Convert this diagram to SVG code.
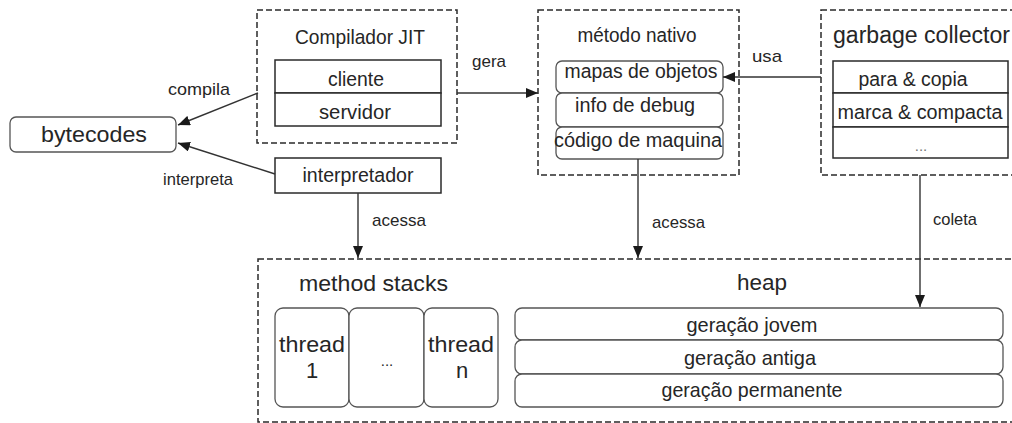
<svg xmlns="http://www.w3.org/2000/svg" width="1012" height="423" viewBox="0 0 1012 423">
<defs>
<style>
text{font-family:"Liberation Sans",Arial,sans-serif;fill:#262626;}
.c{text-anchor:middle;}
.t19{font-size:20px;}
.t22{font-size:22px;}
.lab{font-size:17px;}
.dash{fill:none;stroke:#2a2a2a;stroke-width:1.5;stroke-dasharray:6,3;}
.box{fill:#fff;stroke:#2a2a2a;stroke-width:1.5;}
.rbox{fill:#fff;stroke:#555;stroke-width:1.3;}
.conn{fill:none;stroke:#333;stroke-width:1.4;}
</style>
<marker id="ah" viewBox="0 0 12 10" refX="12" refY="5" markerWidth="12" markerHeight="10" markerUnits="userSpaceOnUse" orient="auto">
<path d="M0,0 L12,5 L0,10 z" fill="#1a1a1a"/>
</marker>
</defs>
<rect width="1012" height="423" fill="#fff"/>

<g id="jit">
<rect class="dash" x="257" y="10" width="200" height="133"/>
<text class="c" x="360" y="44" font-size="21" textLength="130" lengthAdjust="spacingAndGlyphs">Compilador JIT</text>
<rect class="box" x="275" y="60" width="166" height="33"/>
<rect class="box" x="275" y="93" width="166" height="33"/>
<text class="c t19" x="356" y="86" textLength="56" lengthAdjust="spacingAndGlyphs">cliente</text>
<text class="c t19" x="355" y="119" textLength="72" lengthAdjust="spacingAndGlyphs">servidor</text>
</g>

<g id="interpretador">
<rect class="box" x="275" y="158" width="166" height="35"/>
<text class="c t19" x="358" y="182" textLength="111" lengthAdjust="spacingAndGlyphs">interpretador</text>
</g>

<g id="bytecodes">
<rect class="rbox" x="10" y="117" width="166" height="35" rx="6"/>
<text class="c t22" x="94" y="142" textLength="106" lengthAdjust="spacingAndGlyphs">bytecodes</text>
</g>

<g id="metodo-nativo">
<rect class="dash" x="538" y="10" width="201" height="165"/>
<text class="c t19" x="637" y="42" textLength="119" lengthAdjust="spacingAndGlyphs">método nativo</text>
<rect class="rbox" x="556" y="61" width="167" height="32" rx="6"/>
<rect class="rbox" x="556" y="93" width="167" height="34" rx="6"/>
<rect class="rbox" x="556" y="127" width="167" height="32" rx="6"/>
<text class="c t19" x="641" y="78" textLength="153" lengthAdjust="spacingAndGlyphs">mapas de objetos</text>
<text class="c t19" x="635" y="112" textLength="120" lengthAdjust="spacingAndGlyphs">info de debug</text>
<text class="c t19" x="638" y="147" textLength="168" lengthAdjust="spacingAndGlyphs">código de maquina</text>
</g>

<g id="garbage-collector">
<rect class="dash" x="821" y="10" width="200" height="165"/>
<text x="833" y="43" font-size="23" textLength="177" lengthAdjust="spacingAndGlyphs">garbage collector</text>
<rect class="box" x="833" y="61" width="175" height="32"/>
<rect class="box" x="833" y="93" width="175" height="34"/>
<rect class="box" x="833" y="127" width="175" height="31"/>
<text class="c t19" x="913" y="86" textLength="109" lengthAdjust="spacingAndGlyphs">para &amp; copia</text>
<text class="c t19" x="920" y="119" textLength="165" lengthAdjust="spacingAndGlyphs">marca &amp; compacta</text>
<text class="c" x="921" y="151" font-size="15" style="fill:#777">...</text>
</g>

<g id="memoria">
<rect class="dash" x="258" y="259" width="770" height="163"/>
</g>

<g id="method-stacks">
<text class="t22" x="299" y="291" textLength="149" lengthAdjust="spacingAndGlyphs">method stacks</text>
<rect class="rbox" x="275" y="308" width="74" height="99" rx="8"/>
<rect class="rbox" x="349" y="308" width="75" height="99" rx="8"/>
<rect class="rbox" x="424" y="308" width="74" height="99" rx="8"/>
<text class="c t22" x="312" y="352" textLength="66" lengthAdjust="spacingAndGlyphs">thread</text>
<text class="c t22" x="312" y="378">1</text>
<text class="c" x="387" y="366" font-size="15">...</text>
<text class="c t22" x="461" y="352" textLength="66" lengthAdjust="spacingAndGlyphs">thread</text>
<text class="c t22" x="462" y="378">n</text>
</g>

<g id="heap">
<text class="c t22" x="762" y="290" textLength="50" lengthAdjust="spacingAndGlyphs">heap</text>
<rect class="rbox" x="515" y="308" width="488" height="32" rx="7"/>
<rect class="rbox" x="515" y="340" width="488" height="34" rx="7"/>
<rect class="rbox" x="515" y="374" width="488" height="33" rx="7"/>
<text class="c" x="752" y="332" font-size="21" textLength="131" lengthAdjust="spacingAndGlyphs">geração jovem</text>
<text class="c" x="750" y="365" font-size="21" textLength="132" lengthAdjust="spacingAndGlyphs">geração antiga</text>
<text class="c" x="752" y="397" font-size="21" textLength="181" lengthAdjust="spacingAndGlyphs">geração permanente</text>
</g>

<g id="connectors">
<line class="conn" x1="258" y1="93" x2="178" y2="125" marker-end="url(#ah)"/>
<line class="conn" x1="275" y1="174" x2="178" y2="143" marker-end="url(#ah)"/>
<line class="conn" x1="457" y1="93" x2="538" y2="93" marker-end="url(#ah)"/>
<line class="conn" x1="821" y1="77" x2="723" y2="77" marker-end="url(#ah)"/>
<line class="conn" x1="358" y1="193" x2="358" y2="258" marker-end="url(#ah)"/>
<line class="conn" x1="638" y1="159" x2="638" y2="258" marker-end="url(#ah)"/>
<line class="conn" x1="920" y1="175" x2="920" y2="307" marker-end="url(#ah)"/>
<text class="lab" x="168" y="95" textLength="62" lengthAdjust="spacingAndGlyphs">compila</text>
<text class="lab" x="163" y="185" textLength="70" lengthAdjust="spacingAndGlyphs">interpreta</text>
<text class="lab" x="472" y="67" textLength="34" lengthAdjust="spacingAndGlyphs">gera</text>
<text class="lab" x="752" y="62" textLength="30" lengthAdjust="spacingAndGlyphs">usa</text>
<text class="lab" x="372" y="226" textLength="54" lengthAdjust="spacingAndGlyphs">acessa</text>
<text class="lab" x="652" y="228" textLength="53" lengthAdjust="spacingAndGlyphs">acessa</text>
<text class="lab" x="933" y="225" textLength="44" lengthAdjust="spacingAndGlyphs">coleta</text>
</g>
</svg>
